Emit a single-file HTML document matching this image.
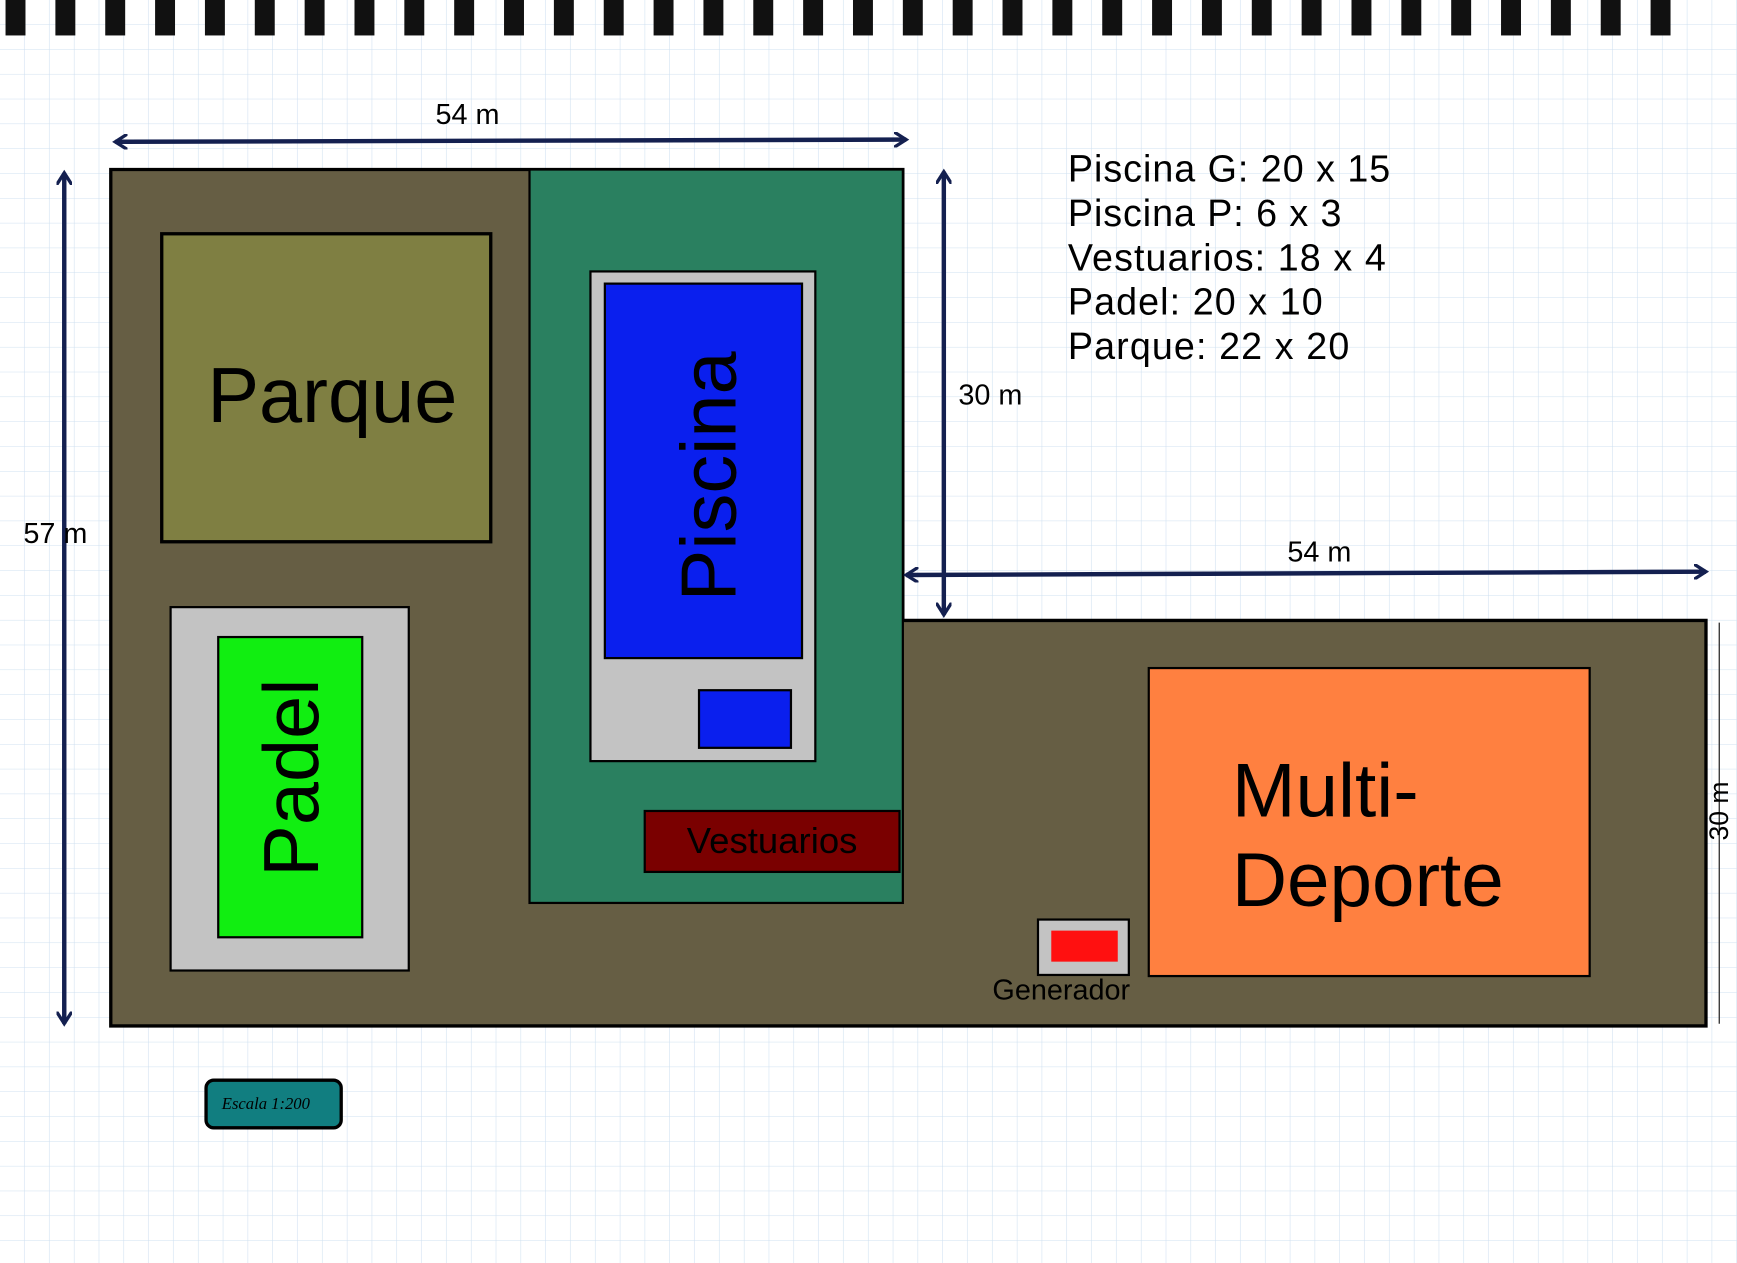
<!DOCTYPE html>
<html><head><meta charset="utf-8"><style>
html,body{margin:0;padding:0;background:#fff;}
svg{display:block;}
text{font-family:"Liberation Sans",sans-serif;}
</style></head><body>
<svg width="1737" height="1263" viewBox="0 0 1568 1140" preserveAspectRatio="none" xmlns="http://www.w3.org/2000/svg">
<defs>
<pattern id="g" width="22.4" height="22.4" patternUnits="userSpaceOnUse">
<path d="M22.4 0V22.4H0" fill="none" stroke="#cfe0f0" stroke-width="1"/>
</pattern>
<marker id="a" markerWidth="14" markerHeight="14" refX="11" refY="7" orient="auto-start-reverse" markerUnits="userSpaceOnUse">
<path d="M0 0L11 7L0 14" fill="none" stroke="#142050" stroke-width="3"/>
</marker>
</defs>
<rect width="1568" height="1140" fill="#fff"/>
<rect width="1568" height="1140" fill="url(#g)"/>
<g fill="#111">
<rect x="5" y="0" width="18" height="32"/><rect x="50" y="0" width="18" height="32"/><rect x="95" y="0" width="18" height="32"/><rect x="140" y="0" width="18" height="32"/><rect x="185" y="0" width="18" height="32"/><rect x="230" y="0" width="18" height="32"/><rect x="275" y="0" width="18" height="32"/><rect x="320" y="0" width="18" height="32"/><rect x="365" y="0" width="18" height="32"/><rect x="410" y="0" width="18" height="32"/><rect x="455" y="0" width="18" height="32"/><rect x="500" y="0" width="18" height="32"/><rect x="545" y="0" width="18" height="32"/><rect x="590" y="0" width="18" height="32"/><rect x="635" y="0" width="18" height="32"/><rect x="680" y="0" width="18" height="32"/><rect x="725" y="0" width="18" height="32"/><rect x="770" y="0" width="18" height="32"/><rect x="815" y="0" width="18" height="32"/><rect x="860" y="0" width="18" height="32"/><rect x="905" y="0" width="18" height="32"/><rect x="950" y="0" width="18" height="32"/><rect x="995" y="0" width="18" height="32"/><rect x="1040" y="0" width="18" height="32"/><rect x="1085" y="0" width="18" height="32"/><rect x="1130" y="0" width="18" height="32"/><rect x="1175" y="0" width="18" height="32"/><rect x="1220" y="0" width="18" height="32"/><rect x="1265" y="0" width="18" height="32"/><rect x="1310" y="0" width="18" height="32"/><rect x="1355" y="0" width="18" height="32"/><rect x="1400" y="0" width="18" height="32"/><rect x="1445" y="0" width="18" height="32"/><rect x="1490" y="0" width="18" height="32"/>
</g>
<path d="M100 153H815V560H1540V926H100Z" fill="#665e44" stroke="#000" stroke-width="3"/>
<rect x="478" y="153" width="337" height="662" fill="#2a8060" stroke="#000" stroke-width="2"/>
<rect x="146" y="211" width="297" height="278" fill="#7f7f42" stroke="#000" stroke-width="3"/>
<text x="300" y="381" font-size="70" text-anchor="middle" fill="#000">Parque</text>
<rect x="154" y="548" width="215" height="328" fill="#c3c3c3" stroke="#000" stroke-width="2"/>
<rect x="197" y="575" width="130" height="271" fill="#11ee11" stroke="#000" stroke-width="2"/>
<text transform="translate(287 702) rotate(-90)" font-size="70" text-anchor="middle" fill="#000">Padel</text>
<rect x="533" y="245" width="203" height="442" fill="#c3c3c3" stroke="#000" stroke-width="2"/>
<rect x="546" y="256" width="178" height="338" fill="#0a1fee" stroke="#000" stroke-width="2"/>
<text transform="translate(664 430) rotate(-90)" font-size="70" text-anchor="middle" fill="#000">Piscina</text>
<rect x="631" y="623" width="83" height="52" fill="#0a1fee" stroke="#000" stroke-width="2"/>
<rect x="582" y="732" width="230" height="55" fill="#7a0000" stroke="#000" stroke-width="2"/>
<text x="697" y="770" font-size="33" text-anchor="middle" fill="#000">Vestuarios</text>
<rect x="1037" y="603" width="398" height="278" fill="#ff8040" stroke="#000" stroke-width="2"/>
<text x="1112" y="737" font-size="69" fill="#000">Multi-</text>
<text x="1112" y="818" font-size="69" fill="#000">Deporte</text>
<rect x="937" y="830" width="82" height="50" fill="#c3c3c3" stroke="#000" stroke-width="2"/>
<rect x="949" y="840" width="60" height="28" fill="#ff1010"/>
<text x="958" y="902" font-size="26" text-anchor="middle" fill="#000">Generador</text>
<line x1="104" y1="128" x2="818" y2="126" stroke="#142050" stroke-width="4" marker-start="url(#a)" marker-end="url(#a)"/>
<text x="422" y="112" font-size="26" text-anchor="middle" fill="#000">54 m</text>
<line x1="58" y1="156" x2="58" y2="924" stroke="#142050" stroke-width="4" marker-start="url(#a)" marker-end="url(#a)"/>
<text x="50" y="490" font-size="26" text-anchor="middle" fill="#000">57 m</text>
<line x1="852" y1="155" x2="852" y2="555" stroke="#142050" stroke-width="4" marker-start="url(#a)" marker-end="url(#a)"/>
<text x="894" y="365" font-size="26" text-anchor="middle" fill="#000">30 m</text>
<line x1="818" y1="519" x2="1540" y2="516" stroke="#142050" stroke-width="4" marker-start="url(#a)" marker-end="url(#a)"/>
<text x="1191" y="507" font-size="26" text-anchor="middle" fill="#000">54 m</text>
<line x1="1552" y1="562" x2="1552" y2="924" stroke="#333" stroke-width="1.2"/>
<text transform="translate(1560 732) rotate(-90)" font-size="24" text-anchor="middle" fill="#000">30 m</text>
<g font-size="34" fill="#000">
<text x="964" y="164" textLength="291">Piscina G: 20 x 15</text>
<text x="964" y="204" textLength="247">Piscina P: 6 x 3</text>
<text x="964" y="244" textLength="287">Vestuarios: 18 x 4</text>
<text x="964" y="284" textLength="230">Padel: 20 x 10</text>
<text x="964" y="324" textLength="254">Parque: 22 x 20</text>
</g>
<rect x="186" y="975" width="122" height="43" rx="7" fill="#117e80" stroke="#000" stroke-width="3"/>
<text x="240" y="1001" font-size="15" font-style="italic" text-anchor="middle" fill="#000" style="font-family:'Liberation Serif',serif">Escala 1:200</text>
</svg>
</body></html>
